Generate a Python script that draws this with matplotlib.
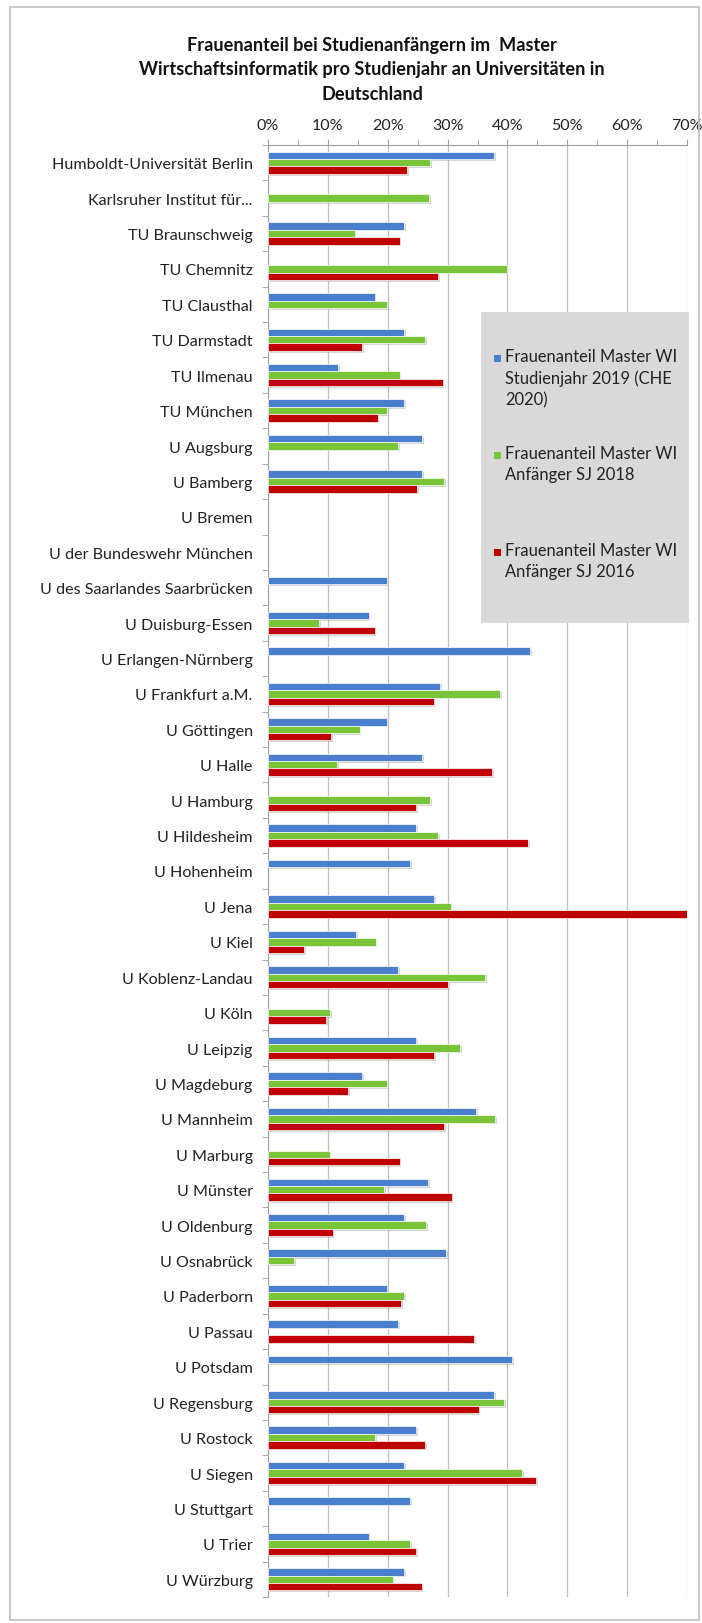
import matplotlib
matplotlib.use("Agg")
import matplotlib.pyplot as plt
import numpy as np
from matplotlib import patheffects as pe
from matplotlib.patches import Rectangle

plt.rcParams['font.family'] = ['Lato', 'DejaVu Sans']

# Hochschulen (von oben nach unten)
unis = ["Humboldt-Universität Berlin", "Karlsruher Institut für...", "TU Braunschweig",
        "TU Chemnitz", "TU Clausthal", "TU Darmstadt", "TU Ilmenau", "TU München",
        "U Augsburg", "U Bamberg", "U Bremen", "U der Bundeswehr München",
        "U des Saarlandes Saarbrücken", "U Duisburg-Essen", "U Erlangen-Nürnberg",
        "U Frankfurt a.M.", "U Göttingen", "U Halle", "U Hamburg", "U Hildesheim",
        "U Hohenheim", "U Jena", "U Kiel", "U Koblenz-Landau", "U Köln", "U Leipzig",
        "U Magdeburg", "U Mannheim", "U Marburg", "U Münster", "U Oldenburg",
        "U Osnabrück", "U Paderborn", "U Passau", "U Potsdam", "U Regensburg",
        "U Rostock", "U Siegen", "U Stuttgart", "U Trier", "U Würzburg"]
nan = np.nan
# Frauenanteil in %
sj2019 = [37.8, nan, 22.8, nan, 17.8, 22.8, 11.7, 22.8, 25.8, 25.8, nan, nan,
          19.8, 16.8, 43.8, 28.8, 19.8, 25.8, nan, 24.8, 23.8, 27.8, 14.7, 21.8,
          nan, 24.8, 15.7, 34.8, nan, 26.8, 22.8, 29.8, 19.8, 21.8, 40.8, 37.8,
          24.8, 22.8, 23.8, 16.8, 22.8]
sj2018 = [27.1, 26.9, 14.5, 39.9, 19.8, 26.3, 22.0, 19.8, 21.7, 29.4, nan, nan,
          nan, 8.5, nan, 38.8, 15.3, 11.5, 27.1, 28.4, nan, 30.5, 18.0, 36.3,
          10.4, 32.1, 19.8, 38.0, 10.3, 19.4, 26.4, 4.4, 22.8, nan, nan, 39.5,
          17.9, 42.5, nan, 23.8, 20.8]
sj2016 = [23.2, nan, 22.0, 28.4, nan, 15.7, 29.2, 18.3, nan, 24.9, nan, nan,
          nan, 17.8, nan, 27.7, 10.6, 37.4, 24.8, 43.5, nan, 70.0, 6.0, 30.1,
          9.7, 27.8, 13.4, 29.4, 22.0, 30.7, 10.8, nan, 22.2, 34.4, nan, 35.2,
          26.3, 44.8, nan, 24.8, 25.7]
series_labels = ["Frauenanteil Master WI\nStudienjahr 2019 (CHE\n2020)",
                 "Frauenanteil Master WI\nAnfänger SJ 2018",
                 "Frauenanteil Master WI\nAnfänger SJ 2016"]
colors = ["#4A7FD0", "#7AC43A", "#C00000"]

W, H = 702, 1624
fig = plt.figure(figsize=(W / 100, H / 100), dpi=100)

def fx(px):
    return px / W

def fy(py):
    return 1 - py / H

ax = fig.add_axes([fx(268), fy(1598), fx(687) - fx(268), fy(146) - fy(1598)])

y = np.arange(len(unis))
h = 0.21
shadow = [pe.SimplePatchShadow(offset=(1.2, -1.2), shadow_rgbFace='#8a8a8a', alpha=0.35), pe.Normal()]
for off, vals, c in zip([-h, 0, h], [sj2019, sj2018, sj2016], colors):
    v = np.array(vals) / 100
    ax.barh(y + off, v, height=h, color=c, edgecolor='white', linewidth=0.5,
            path_effects=shadow, zorder=3)

ax.set_xlim(0, 0.7)
ax.set_ylim(len(unis) - 0.5, -0.5)
ax.set_xticks(np.arange(0, 0.71, 0.1))
ax.set_xticklabels([f"{int(round(t * 100))}%" for t in np.arange(0, 0.71, 0.1)])
ax.set_xticks(np.arange(0.05, 0.7, 0.1), minor=True)
ax.xaxis.tick_top()
ax.tick_params(axis='x', which='both', colors='#A0A0A0', labelcolor='#222222',
               labelsize=11.5, length=4, pad=5)
ax.set_yticks(y)
ax.set_yticklabels(unis)
ax.set_yticks(np.arange(-0.5, len(unis) + 0.5, 1), minor=True)
ax.tick_params(axis='y', which='major', length=0, labelsize=11.6, labelcolor='#222222', pad=11)
ax.tick_params(axis='y', which='minor', length=4, color='#A0A0A0')
ax.grid(axis='x', which='major', color='#BFBFBF', linewidth=0.9, zorder=0)
for s in ['right', 'bottom']:
    ax.spines[s].set_visible(False)
for s in ['top', 'left']:
    ax.spines[s].set_color('#A0A0A0')

# Titel
fig.text(fx(372), fy(70), "Frauenanteil bei Studienanfängern im  Master\n"
         "Wirtschaftsinformatik pro Studienjahr an Universitäten in\nDeutschland",
         ha='center', va='center', fontsize=13.1, fontweight='bold',
         linespacing=1.5, color='#111111')

# Legende
fig.patches.append(Rectangle((fx(481), fy(624)), fx(689) - fx(481), fy(313) - fy(624),
                             transform=fig.transFigure, facecolor='#D9D9D9',
                             edgecolor='none', zorder=5))
first_line = [359, 456, 553]
for lab, c, ly in zip(series_labels, colors, first_line):
    fig.patches.append(Rectangle((fx(494), fy(ly + 4)), fx(7), 7 / H,
                                 transform=fig.transFigure, facecolor=c,
                                 edgecolor='none', zorder=6))
    fig.text(fx(505), fy(ly - 10), lab, ha='left', va='top', fontsize=11.9,
             linespacing=1.4, color='#222222', zorder=7)

# Rahmen
fig.patches.append(Rectangle((fx(10), fy(1621)), fx(699) - fx(10), fy(8) - fy(1621),
                             transform=fig.transFigure, facecolor='none',
                             edgecolor='#BFBFBF', linewidth=1.2))

fig.savefig("out.png", dpi=100)
